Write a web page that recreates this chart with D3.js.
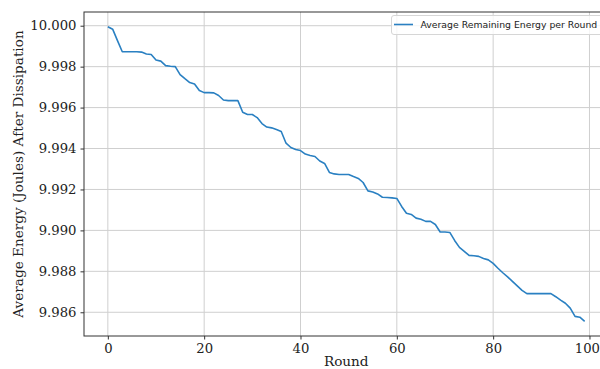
<!DOCTYPE html>
<html>
<head>
<meta charset="utf-8">
<script src="https://cdn.jsdelivr.net/npm/d3@7"></script>
<style>
  body { margin: 0; background: #fff; }
  .tick text { font-family: "DejaVu Serif", serif; font-size: 13.2px; fill: #222; }
</style>
</head>
<body>
<div id="chart"></div>
<script>
// rounds 0..99
const rounds = d3.range(0, 100);
// average remaining energy after each round
const energy = [
  9.99995, 9.99983, 9.99927, 9.99873, 9.99873, 9.99873, 9.99873, 9.99871, 9.99862, 9.99859,
  9.99832, 9.99827, 9.99805, 9.99802, 9.99800, 9.99761, 9.99741, 9.99722, 9.99715, 9.99683,
  9.99673, 9.99673, 9.99672, 9.99659, 9.99637, 9.99634, 9.99634, 9.99634, 9.99577, 9.99566,
  9.99566, 9.99551, 9.99522, 9.99505, 9.99501, 9.99493, 9.99483, 9.99426, 9.99405, 9.99395,
  9.99390, 9.99373, 9.99366, 9.99361, 9.99339, 9.99327, 9.99283, 9.99276, 9.99273, 9.99273,
  9.99273, 9.99263, 9.99254, 9.99234, 9.99193, 9.99188, 9.99178, 9.99162, 9.99161, 9.99159,
  9.99156, 9.99117, 9.99084, 9.99078, 9.99060, 9.99054, 9.99044, 9.99044, 9.99029, 9.98992,
  9.98992, 9.98990, 9.98951, 9.98917, 9.98898, 9.98878, 9.98876, 9.98873, 9.98863, 9.98856,
  9.98839, 9.98815, 9.98793, 9.98773, 9.98751, 9.98729, 9.98707, 9.98691, 9.98691, 9.98691,
  9.98691, 9.98691, 9.98691, 9.98676, 9.98659, 9.98644, 9.98620, 9.98580, 9.98576, 9.98556
];
const xTicks = [0, 20, 40, 60, 80, 100];
const yTicks = [9.986, 9.988, 9.990, 9.992, 9.994, 9.996, 9.998, 10.000];
const seriesName = "Average Remaining Energy per Round";

const width = 600, height = 369;
// plot box (right edge falls just outside the window, like the reference)
const box = { left: 84, right: 608.5, top: 12, bottom: 336 };
const lineColor = "#2a80c2";

const svg = d3.select("#chart").append("svg")
  .attr("width", width)
  .attr("height", height)
  .style("background", "#fff");

// matplotlib style 5% padding around the data
const xExt = d3.extent(rounds), yExt = d3.extent(energy);
const xPad = (xExt[1] - xExt[0]) * 0.05, yPad = (yExt[1] - yExt[0]) * 0.05;

const x = d3.scaleLinear().domain([xExt[0] - xPad, xExt[1] + xPad]).range([box.left, box.right]);
const y = d3.scaleLinear().domain([yExt[0] - yPad, yExt[1] + yPad]).range([box.bottom, box.top]);

// grid
svg.append("g").selectAll("line").data(xTicks).enter().append("line")
  .attr("x1", d => x(d)).attr("x2", d => x(d))
  .attr("y1", box.top).attr("y2", box.bottom)
  .attr("stroke", "#cfcfcf").attr("stroke-width", 1);
svg.append("g").selectAll("line").data(yTicks).enter().append("line")
  .attr("x1", box.left).attr("x2", box.right)
  .attr("y1", d => y(d)).attr("y2", d => y(d))
  .attr("stroke", "#cfcfcf").attr("stroke-width", 1);

// axes
const xAxis = svg.append("g")
  .attr("transform", `translate(0,${box.bottom})`)
  .call(d3.axisBottom(x).tickValues(xTicks).tickFormat(d3.format("d")).tickSizeInner(3.5).tickSizeOuter(0).tickPadding(4));
const yAxis = svg.append("g")
  .attr("transform", `translate(${box.left},0)`)
  .call(d3.axisLeft(y).tickValues(yTicks).tickFormat(d3.format(".3f")).tickSizeInner(3.5).tickSizeOuter(0).tickPadding(4));
[xAxis, yAxis].forEach(a => {
  a.select(".domain").remove();
  a.selectAll(".tick line").attr("stroke", "#333");
});
// the "100" label sits right at the window edge; keep it inside
xAxis.selectAll(".tick text")
  .filter(d => d === 100)
  .attr("text-anchor", "end")
  .attr("x", width - 0.5 - x(100));

// spines
svg.append("rect")
  .attr("x", box.left).attr("y", box.top)
  .attr("width", box.right - box.left).attr("height", box.bottom - box.top)
  .attr("fill", "none").attr("stroke", "#333").attr("stroke-width", 1);

// data line
const line = d3.line()
  .x((d, i) => x(rounds[i]))
  .y(d => y(d));
svg.append("path")
  .datum(energy)
  .attr("d", line)
  .attr("fill", "none")
  .attr("stroke", lineColor)
  .attr("stroke-width", 1.6)
  .attr("stroke-linejoin", "round");

// axis labels
svg.append("text")
  .attr("x", (box.left + box.right) / 2).attr("y", 366)
  .attr("text-anchor", "middle")
  .style("font-family", "DejaVu Serif, serif").style("font-size", "13.6px").style("fill", "#222")
  .text("Round");
svg.append("text")
  .attr("transform", `translate(23,${(box.top + box.bottom) / 2}) rotate(-90)`)
  .attr("text-anchor", "middle")
  .style("font-family", "DejaVu Serif, serif").style("font-size", "13.6px").style("fill", "#222")
  .text("Average Energy (Joules) After Dissipation");

// legend
const legend = svg.append("g");
legend.append("rect")
  .attr("x", 391.5).attr("y", 15.5).attr("width", 230).attr("height", 19)
  .attr("rx", 2.5)
  .attr("fill", "#fff").attr("fill-opacity", 0.8)
  .attr("stroke", "#d6d6d6");
legend.append("line")
  .attr("x1", 394).attr("x2", 413).attr("y1", 24.5).attr("y2", 24.5)
  .attr("stroke", lineColor).attr("stroke-width", 1.6);
legend.append("text")
  .attr("x", 420.5).attr("y", 28.2)
  .style("font-family", "DejaVu Sans, sans-serif").style("font-size", "9.3px").style("fill", "#222")
  .text(seriesName);
</script>
</body>
</html>
